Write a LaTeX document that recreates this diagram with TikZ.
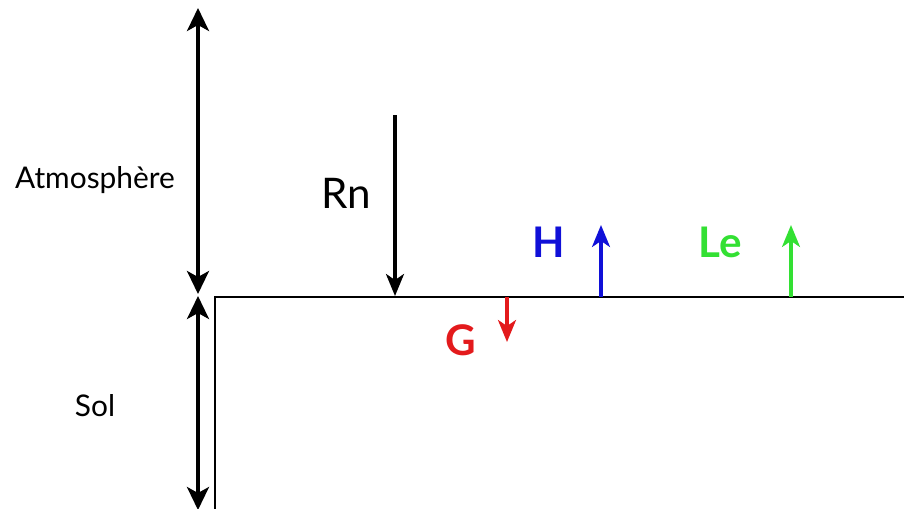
\documentclass[tikz,border=0pt]{standalone}
\usepackage{fontspec}
\setmainfont{Lato}
\usepackage{xcolor}
\usetikzlibrary{arrows.meta,positioning}
\definecolor{fluxred}{HTML}{E31A1C}
\definecolor{fluxblue}{HTML}{1010D8}
\definecolor{fluxgreen}{HTML}{33E033}
\tikzset{
  fluxarrow/.style={-{Stealth[length=4.4mm,width=3.6mm,inset=1.2mm]},line width=1.8pt},
  botharrow/.style={{Stealth[length=4.6mm,width=4.4mm,inset=1.2mm]}-{Stealth[length=4.6mm,width=4.4mm,inset=1.2mm]},line width=2pt},
  groundline/.style={line width=1.3pt,black},
  zonelabel/.style={font=\fontsize{17}{20}\selectfont,text=black},
  fluxlabel/.style={font=\fontsize{24}{28}\selectfont},
  colorlabel/.style={fluxlabel,font=\fontsize{24}{28}\selectfont\bfseries},
}

\begin{document}
\begin{tikzpicture}[x=0.02cm,y=-0.02cm]
  \useasboundingbox (0,0) rectangle (904,508);
  \coordinate (cAtmTop) at (198,8);
  \coordinate (cAtmBot) at (198,294);
  \coordinate (cSolTop) at (198,296);
  \coordinate (cSolBot) at (198,510);
  \coordinate (cCorner) at (215,297);
  \coordinate (cGndBot) at (215,510);
  \coordinate (cGndEnd) at (906,297);
  \coordinate (cRnTop) at (395,115);
  \coordinate (cRnBot) at (395,296);
  \coordinate (cGTop) at (507,297);
  \coordinate (cGBot) at (507,342);
  \coordinate (cHBot) at (601,297);
  \coordinate (cHTop) at (601,225);
  \coordinate (cLeBot) at (791,297);
  \coordinate (cLeTop) at (791,225);
  \node[zonelabel] (nAtm) at (95,180) {Atmosphère};
  \node[zonelabel] (nSol) at (95,406) {Sol};
  \node[fluxlabel] (nRn) at (346,193) {Rn};
  \node[colorlabel,text=fluxred] (nG) at (461,340) {G};
  \node[colorlabel,text=fluxblue] (nH) at (549,242) {H};
  \node[colorlabel,text=fluxgreen] (nLe) at (720,242) {Le};
  \draw[botharrow] (cAtmTop) -- (cAtmBot);
  \draw[botharrow] (cSolTop) -- (cSolBot);
  \draw[groundline] (cGndBot) -- (cCorner) -- (cGndEnd);
  \draw[fluxarrow] (cRnTop) -- (cRnBot);
  \draw[fluxarrow,fluxred] (cGTop) -- (cGBot);
  \draw[fluxarrow,fluxblue] (cHBot) -- (cHTop);
  \draw[fluxarrow,fluxgreen] (cLeBot) -- (cLeTop);
\end{tikzpicture}
\end{document}
